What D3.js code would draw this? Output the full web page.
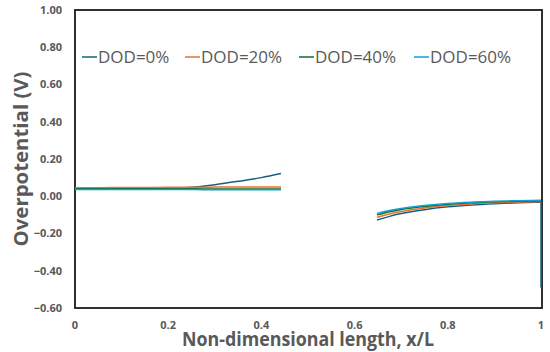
<!DOCTYPE html>
<html><head><meta charset="utf-8">
<script src="https://cdn.jsdelivr.net/npm/d3@7"></script>
<style>body{margin:0;background:#fff}svg{display:block}</style>
</head><body>
<svg id="c" width="550" height="352"></svg>
<script>
const seriesNames = ["DOD=0%","DOD=20%","DOD=40%","DOD=60%"];
const colors = ["#156082","#E97132","#196B24","#0F9ED5"];
const xLeft = [0,0.05,0.1,0.15,0.2,0.25,0.3,0.35,0.4,0.442];
const leftVals = [
  [0.038,0.038,0.039,0.040,0.043,0.048,0.062,0.080,0.100,0.122],
  [0.046,0.046,0.047,0.047,0.048,0.048,0.049,0.049,0.050,0.050],
  [0.040,0.040,0.040,0.040,0.040,0.040,0.039,0.039,0.039,0.039],
  [0.036,0.036,0.036,0.036,0.036,0.036,0.035,0.035,0.035,0.035]
];
const xRight = [0.648,0.675,0.7,0.75,0.8,0.85,0.9,0.95,1.0];
const rightVals = [
  [-0.128,-0.108,-0.093,-0.072,-0.057,-0.047,-0.040,-0.035,-0.032],
  [-0.113,-0.095,-0.082,-0.063,-0.050,-0.041,-0.035,-0.031,-0.029],
  [-0.100,-0.083,-0.071,-0.055,-0.043,-0.035,-0.030,-0.027,-0.025],
  [-0.092,-0.077,-0.066,-0.050,-0.039,-0.032,-0.027,-0.024,-0.022]
];
const dropEnd = -0.49; // DOD=0% final value at x=1
const yTicks = [1.0,0.8,0.6,0.4,0.2,0,-0.2,-0.4,-0.6];
const xTicks = [0,0.2,0.4,0.6,0.8,1];

const svg = d3.select("#c");
const L=75,R=541,T=10,B=308;
const x = d3.scaleLinear().domain([0,1]).range([L,R]);
const y = d3.scaleLinear().domain([-0.6,1.0]).range([B,T]);
const gray="#595959";
const tf="'Open Sans','Liberation Sans',sans-serif";

// frame
svg.append("rect").attr("x",L).attr("y",T).attr("width",R-L+1).attr("height",B-T)
  .attr("fill","none").attr("stroke","#1a1a1a").attr("stroke-width",1.8);

// tick labels
svg.append("g").selectAll("text").data(yTicks).join("text")
  .attr("x",L-13).attr("y",d=>y(d)).attr("dy","0.35em")
  .attr("text-anchor","end").attr("font-family",tf).attr("font-weight","bold")
  .attr("font-size",11).attr("fill",gray).text(d=>d3.format(".2f")(d));
svg.append("g").selectAll("text").data(xTicks).join("text")
  .attr("x",d=>x(d)).attr("y",325).attr("dy","0.35em")
  .attr("text-anchor","middle").attr("font-family",tf).attr("font-weight","bold")
  .attr("font-size",11).attr("fill",gray).text(d=>d===0||d===1?String(d):d3.format(".1f")(d));

const line = d3.line().x(d=>x(d[0])).y(d=>y(d[1])).curve(d3.curveMonotoneX);
const g = svg.append("g").attr("fill","none").attr("stroke-width",1.5);
seriesNames.forEach((n,i)=>{
  g.append("path").attr("stroke",colors[i]).attr("d",line(xLeft.map((v,j)=>[v,leftVals[i][j]])));
  let pts = xRight.map((v,j)=>[v,rightVals[i][j]]);
  let p = line(pts);
  if(i===0) p += "L"+x(1)+","+y(dropEnd);
  g.append("path").attr("stroke",colors[i]).attr("d",p);
});

// legend
const legX=[82,185,299,414];
seriesNames.forEach((n,i)=>{
  svg.append("line").attr("x1",legX[i]).attr("x2",legX[i]+15).attr("y1",57).attr("y2",57)
    .attr("stroke",colors[i]).attr("stroke-width",1.5);
  svg.append("text").attr("x",legX[i]+16).attr("y",63).attr("font-family",tf)
    .attr("font-size",17).attr("fill",gray).text(n);
});

// axis titles
svg.append("text").attr("x",308).attr("y",346).attr("text-anchor","middle")
  .attr("font-family",tf).attr("font-weight","bold").attr("font-size",19).attr("fill",gray)
  .attr("textLength",252).attr("lengthAdjust","spacingAndGlyphs")
  .text("Non-dimensional length, x/L");
svg.append("text").attr("transform","translate(28,159) rotate(-90)").attr("text-anchor","middle")
  .attr("font-family",tf).attr("font-weight","bold").attr("font-size",19).attr("fill",gray)
  .attr("textLength",175).attr("lengthAdjust","spacingAndGlyphs")
  .text("Overpotential (V)");
</script>
</body></html>
